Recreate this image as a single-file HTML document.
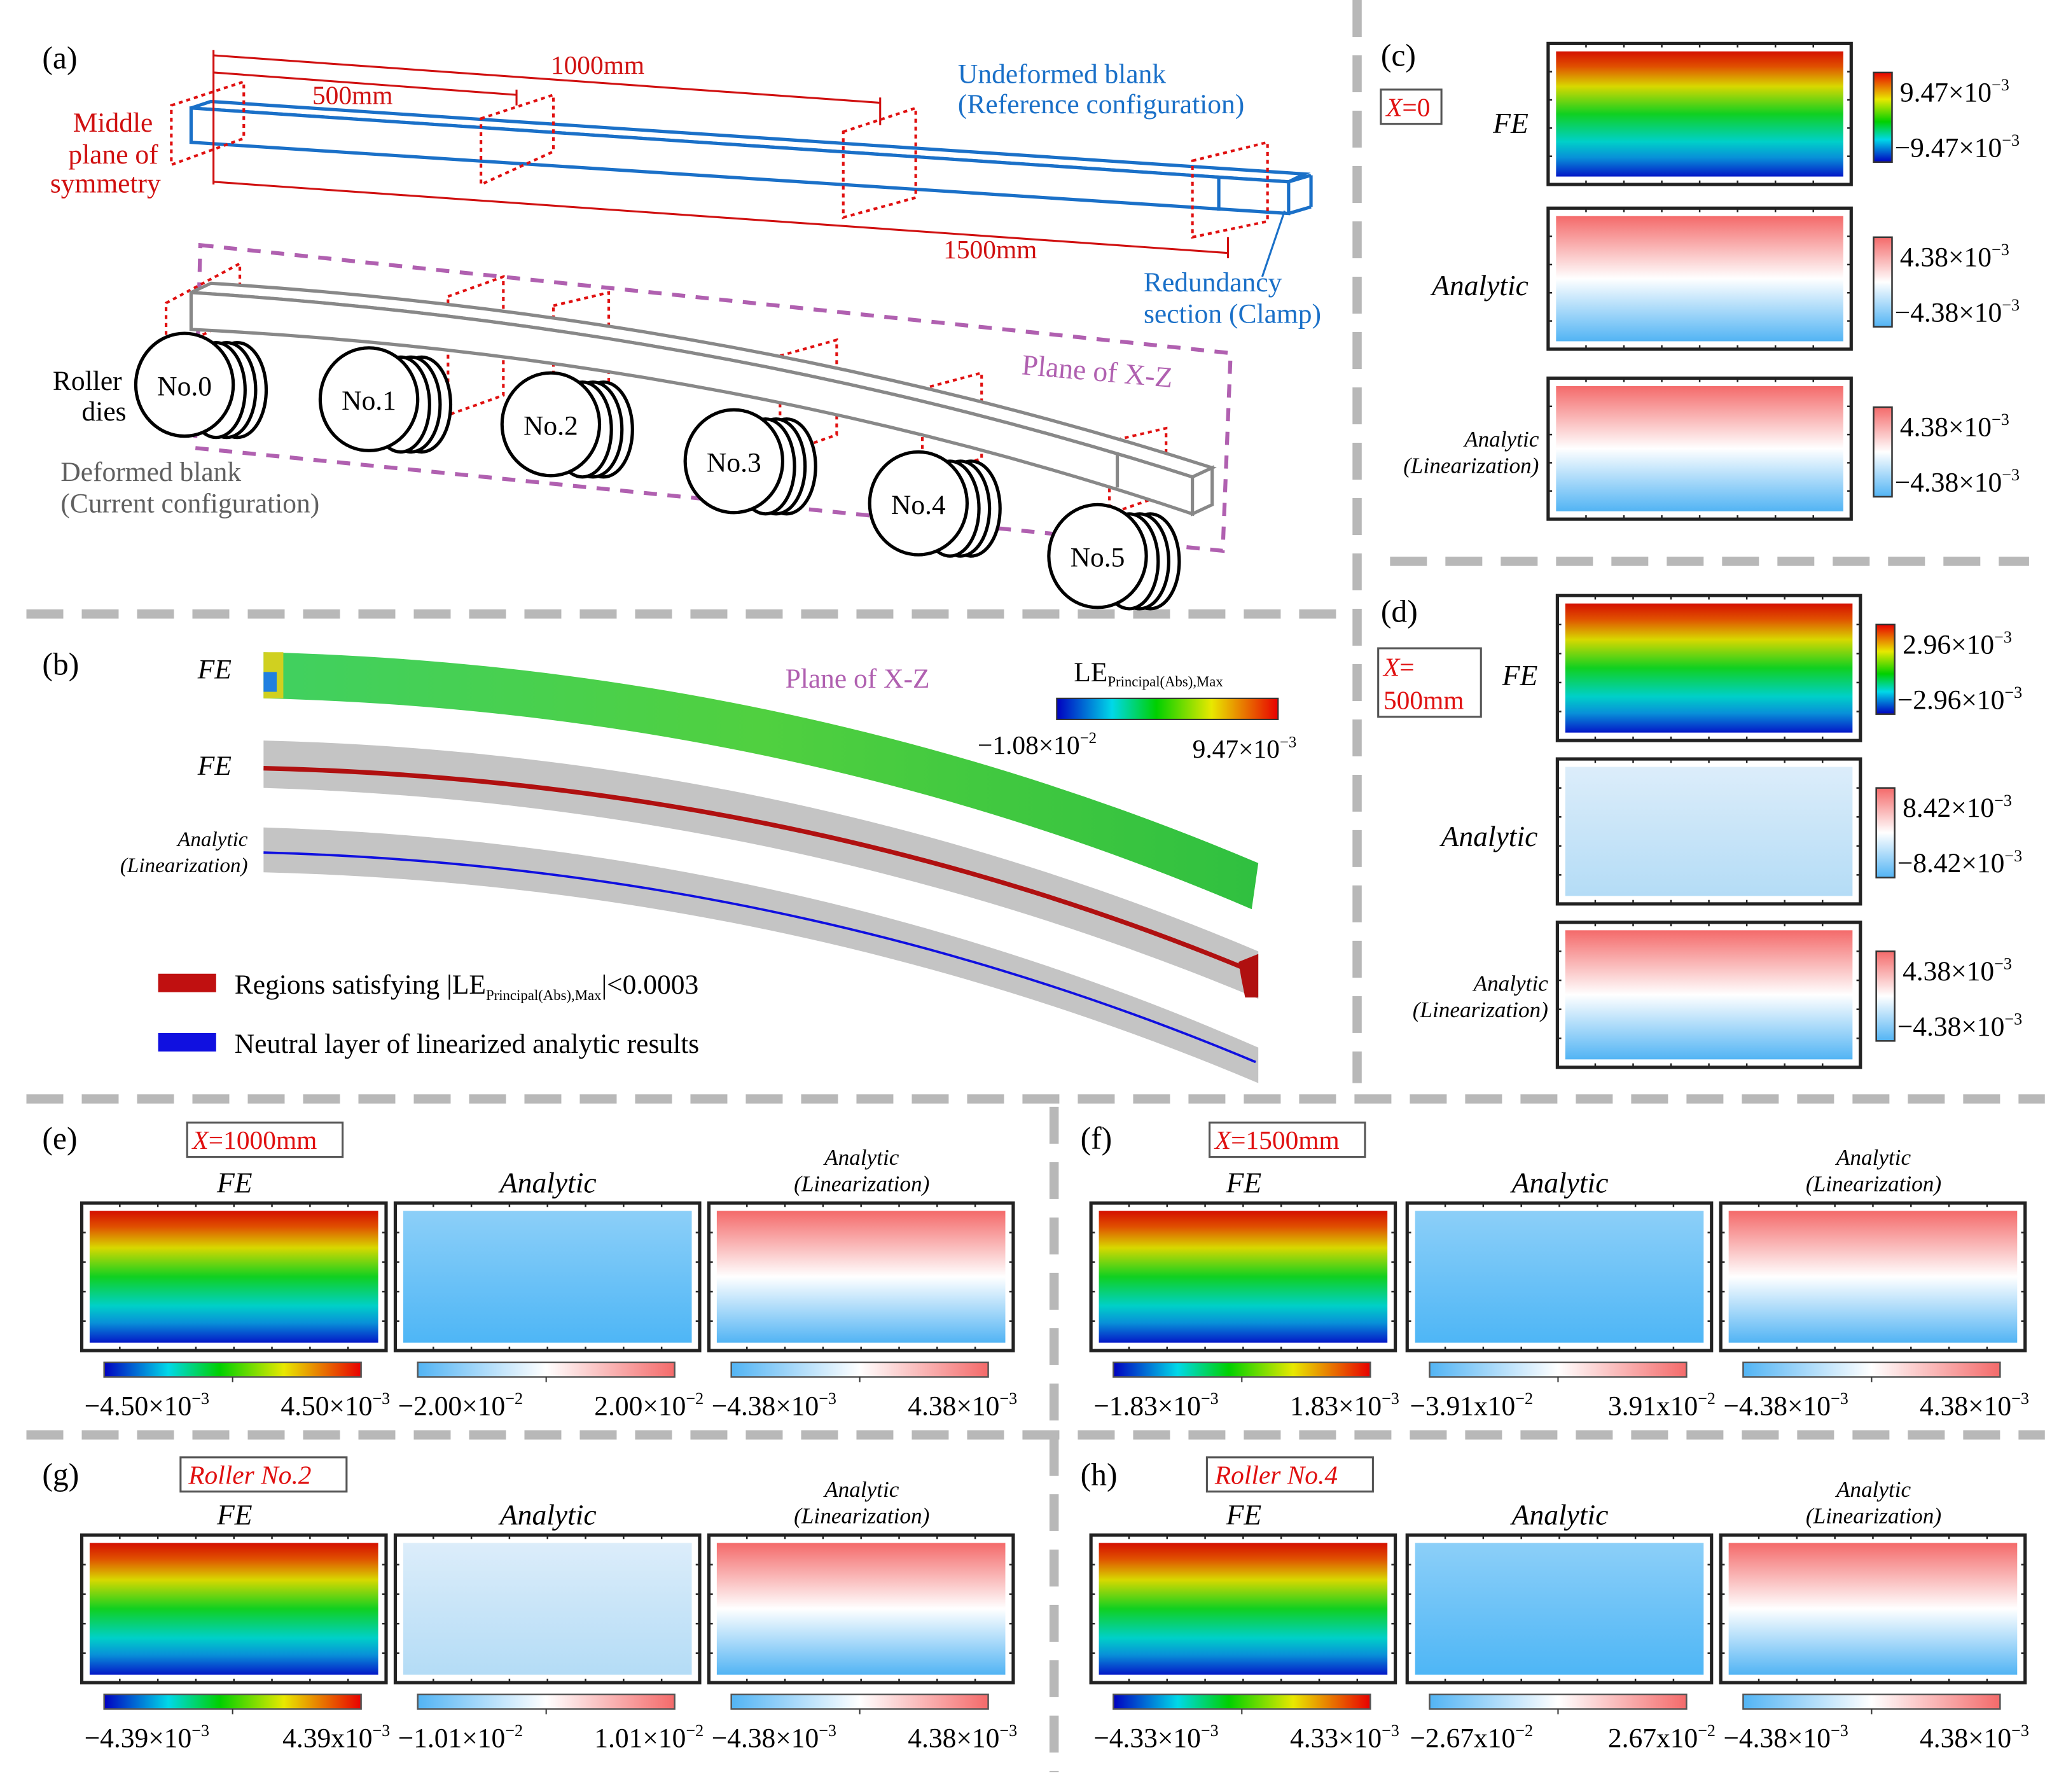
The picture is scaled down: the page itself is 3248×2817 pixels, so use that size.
<!DOCTYPE html>
<html><head><meta charset="utf-8"><style>
html,body{margin:0;padding:0;background:#fff;}
svg{display:block;}
text{font-family:"Liberation Serif",serif;}
</style></head><body>
<svg id="fig" width="3248" height="2817" viewBox="0 0 1568 1360" xmlns="http://www.w3.org/2000/svg">
<defs>
<linearGradient id="rainV" x1="0" y1="0" x2="0" y2="1">
<stop offset="0" stop-color="#d41000"/><stop offset="0.12" stop-color="#e05000"/><stop offset="0.28" stop-color="#d8d800"/><stop offset="0.5" stop-color="#10d020"/><stop offset="0.72" stop-color="#00d0c8"/><stop offset="0.85" stop-color="#0890d8"/><stop offset="1" stop-color="#0418c8"/></linearGradient>
<linearGradient id="rainH" x1="0" y1="0" x2="1" y2="0">
<stop offset="0" stop-color="#0000c0"/><stop offset="0.25" stop-color="#00d8e8"/><stop offset="0.45" stop-color="#00d000"/><stop offset="0.7" stop-color="#e8e800"/><stop offset="1" stop-color="#e80000"/></linearGradient>
<linearGradient id="rainVbar" x1="0" y1="0" x2="0" y2="1">
<stop offset="0" stop-color="#e80000"/><stop offset="0.3" stop-color="#e8e800"/><stop offset="0.55" stop-color="#00d000"/><stop offset="0.75" stop-color="#00d8e8"/><stop offset="1" stop-color="#0000c0"/></linearGradient>
<linearGradient id="linV" x1="0" y1="0" x2="0" y2="1">
<stop offset="0" stop-color="#f46a6a"/><stop offset="0.5" stop-color="#ffffff"/><stop offset="1" stop-color="#52b4f4"/></linearGradient>
<linearGradient id="linH" x1="0" y1="0" x2="1" y2="0">
<stop offset="0" stop-color="#52b4f4"/><stop offset="0.5" stop-color="#ffffff"/><stop offset="1" stop-color="#f46a6a"/></linearGradient>
<linearGradient id="anaLight" x1="0" y1="0" x2="0" y2="1">
<stop offset="0" stop-color="#dcedfa"/><stop offset="1" stop-color="#b4dcf6"/></linearGradient>
<linearGradient id="anaBlue" x1="0" y1="0" x2="0" y2="1">
<stop offset="0" stop-color="#8ccff8"/><stop offset="1" stop-color="#4eb6f6"/></linearGradient>
<linearGradient id="beamG" x1="0" y1="0" x2="1" y2="0">
<stop offset="0" stop-color="#40d060"/><stop offset="0.5" stop-color="#50d040"/><stop offset="1" stop-color="#30c040"/></linearGradient>
</defs>

<g stroke="#b8b8b8" stroke-width="7" stroke-dasharray="28,14" fill="none">
<line x1="1030" y1="0" x2="1030" y2="822"/>
<line x1="20" y1="466" x2="1025" y2="466"/>
<line x1="1055" y1="426" x2="1540" y2="426"/>
<line x1="20" y1="834" x2="1552" y2="834"/>
<line x1="800" y1="840" x2="800" y2="1345"/>
<line x1="20" y1="1089" x2="1552" y2="1089"/>
</g>

<g>
<text x="32" y="52" font-size="24">(a)</text>
<polygon points="152,186 934,268 928,418 148,340" fill="none" stroke="#b060b0" stroke-width="3" stroke-dasharray="10,8"/>
<g stroke="#1a70c8" stroke-width="2.5" fill="none">
<polygon points="145,82 160,77 990,132 978,138"/>
<polygon points="145,82 978,138 978,162 145,108" fill="#fff"/>
<line x1="925" y1="134" x2="925" y2="160"/>
<line x1="978" y1="138" x2="995" y2="133"/><line x1="995" y1="133" x2="995" y2="157"/><line x1="995" y1="157" x2="978" y2="162"/>
</g>
<g stroke="#d01010" stroke-width="1.5" fill="none">
<line x1="162" y1="42" x2="668" y2="78"/><line x1="162" y1="55" x2="392" y2="72"/>
<line x1="162" y1="138" x2="932" y2="192"/>
<line x1="162" y1="38" x2="162" y2="140"/><line x1="668" y1="74" x2="668" y2="95"/><line x1="392" y1="68" x2="392" y2="80"/><line x1="932" y1="180" x2="932" y2="196"/>
</g>
<g stroke="#e01010" stroke-width="2" stroke-dasharray="3,3" fill="none">
<polygon points="130,80 185,62 185,105 130,125"/>
<polygon points="365,90 420,72 420,115 365,140"/>
<polygon points="640,100 695,82 695,150 640,165"/>
<polygon points="905,122 962,108 962,168 905,180"/>
<polygon points="126,230 182,200 182,240 126,268"/>
<polygon points="340,225 382,210 382,300 340,315"/>
<polygon points="420,232 462,222 462,310 420,320"/>
<polygon points="592,270 635,258 635,330 592,345"/>
<polygon points="700,295 745,283 745,348 700,362"/>
<polygon points="842,335 885,325 885,375 842,390"/>
</g>
<text x="418" y="56" font-size="20" fill="#d01010">1000mm</text>
<text x="237" y="79" font-size="20" fill="#d01010">500mm</text>
<text x="716" y="196" font-size="20" fill="#d01010">1500mm</text>
<text x="116" y="100" font-size="21" fill="#d01010" text-anchor="end">Middle</text>
<text x="120" y="124" font-size="21" fill="#d01010" text-anchor="end">plane of</text>
<text x="122" y="146" font-size="21" fill="#d01010" text-anchor="end">symmetry</text>
<text x="727" y="63" font-size="21" fill="#1a70c8">Undeformed blank</text>
<text x="727" y="86" font-size="21" fill="#1a70c8">(Reference configuration)</text>
<text x="868" y="221" font-size="21" fill="#1a70c8">Redundancy</text>
<text x="868" y="245" font-size="21" fill="#1a70c8">section (Clamp)</text>
<line x1="975" y1="160" x2="958" y2="210" stroke="#1a70c8" stroke-width="1.5"/>
<g stroke="#888" stroke-width="2.5" fill="#fff">
<path d="M145,222 L160,215 Q560,240 920,355 L905,362 Q550,248 145,222Z"/>
<path d="M145,222 Q550,248 905,362 L905,390 Q550,270 145,250Z"/>
<path d="M905,362 L920,355 L920,383 L905,390Z"/>
<line x1="848" y1="344" x2="848" y2="370"/>
</g>
<g stroke="#000" stroke-width="2.5" fill="#fff">
<g id="rollers"></g>
</g>
<text x="40" y="296" font-size="21">Roller</text>
<text x="62" y="319" font-size="21">dies</text>
<text x="46" y="365" font-size="21" fill="#606060">Deformed blank</text>
<text x="46" y="389" font-size="21" fill="#606060">(Current configuration)</text>
<text x="775" y="284" font-size="22" fill="#b060b0" transform="rotate(5 775 284)">Plane of X-Z</text>
</g>

<g>
<text x="32" y="512" font-size="24">(b)</text>
<text x="150" y="515" font-size="21" font-style="italic">FE</text>
<text x="150" y="588" font-size="21" font-style="italic">FE</text>
<text x="188" y="642" font-size="16" font-style="italic" text-anchor="end">Analytic</text>
<text x="188" y="662" font-size="16" font-style="italic" text-anchor="end">(Linearization)</text>
<path d="M200,495 Q600,505 955,655 L950,690 Q600,540 200,530Z" fill="url(#beamG)"/>
<path d="M200,495 L215,495 L215,530 L200,530Z" fill="#d0d020"/>
<path d="M200,510 L210,510 L210,525 L200,525Z" fill="#2080e0"/>
<path d="M200,562 Q600,572 955,722 L955,758 Q600,610 200,598Z" fill="#c4c4c4"/>
<path d="M200,583 Q600,593 945,735" fill="none" stroke="#b01010" stroke-width="3.5"/>
<path d="M940,730 L955,724 L955,757 L945,757 L942,742Z" fill="#b01010"/>
<path d="M200,628 Q600,640 955,795 L955,822 Q600,672 200,662Z" fill="#c4c4c4"/>
<path d="M200,647 Q600,658 953,806" fill="none" stroke="#1010e0" stroke-width="1.8"/>
<text x="596" y="522" font-size="21" fill="#b060b0">Plane of X-Z</text>
<text x="815" y="517" font-size="21">LE<tspan font-size="11" dy="4">Principal(Abs),Max</tspan></text>
<rect x="802" y="530" width="168" height="16" fill="url(#rainH)" stroke="#333" stroke-width="1"/>
<text x="742" y="572" font-size="20">−1.08×10<tspan font-size="12" dy="-8">−2</tspan></text>
<text x="905" y="575" font-size="20">9.47×10<tspan font-size="12" dy="-8">−3</tspan></text>
<rect x="120" y="739" width="44" height="14" fill="#c01010"/>
<text x="178" y="754" font-size="21">Regions satisfying |LE<tspan font-size="11" dy="5">Principal(Abs),Max</tspan><tspan dy="-5">|&lt;0.0003</tspan></text>
<rect x="120" y="784" width="44" height="14" fill="#1010e0"/>
<text x="178" y="799" font-size="21">Neutral layer of linearized analytic results</text>
</g>

<g font-size="24">
<text x="1048" y="50">(c)</text>
<text x="1048" y="472">(d)</text>
<text x="32" y="872">(e)</text>
<text x="820" y="872">(f)</text>
<text x="32" y="1127">(g)</text>
<text x="820" y="1127">(h)</text>
</g>
<g font-size="20" fill="#e01010" font-style="italic">
<rect x="1048" y="68" width="46" height="26" fill="#fff" stroke="#555" stroke-width="1.5"/>
<text x="1052" y="88">X<tspan font-style="normal">=0</tspan></text>
<rect x="1046" y="492" width="78" height="52" fill="#fff" stroke="#555" stroke-width="1.5"/>
<text x="1050" y="513">X<tspan font-style="normal">=</tspan></text>
<text x="1050" y="538" font-style="normal">500mm</text>
<rect x="142" y="852" width="118" height="26" fill="#fff" stroke="#555" stroke-width="1.5"/>
<text x="146" y="872">X<tspan font-style="normal">=1000mm</tspan></text>
<rect x="918" y="852" width="118" height="26" fill="#fff" stroke="#555" stroke-width="1.5"/>
<text x="922" y="872">X<tspan font-style="normal">=1500mm</tspan></text>
<rect x="137" y="1106" width="126" height="26" fill="#fff" stroke="#555" stroke-width="1.5"/>
<text x="143" y="1126">Roller No.2</text>
<rect x="916" y="1106" width="126" height="26" fill="#fff" stroke="#555" stroke-width="1.5"/>
<text x="922" y="1126">Roller No.4</text>
</g>
<g id="maps"></g>
</svg>
<script>
const rollerNames = ["No.0","No.1","No.2","No.3","No.4","No.5"];
const rollerCx = [140,280,418,557,697,833];
const rollerCy = [292,303,322,350,382,422];

const panelIds = ["c","d","e","f","g","h"];
const feMin = ["−9.47×10","−2.96×10","−4.50×10","−1.83×10","−4.39×10","−4.33×10"];
const feMax = ["9.47×10","2.96×10","4.50×10","1.83×10","4.39x10","4.33×10"];
const feExp = ["−3","−3","−3","−3","−3","−3"];
const anaMin = ["−4.38×10","−8.42×10","−2.00×10","−3.91x10","−1.01×10","−2.67x10"];
const anaMax = ["4.38×10","8.42×10","2.00×10","3.91x10","1.01×10","2.67x10"];
const anaExp = ["−3","−3","−2","−2","−2","−2"];
const anaFill = ["url(#linV)","url(#anaLight)","url(#anaBlue)","url(#anaBlue)","url(#anaLight)","url(#anaBlue)"];
const linMin = ["−4.38×10","−4.38×10","−4.38×10","−4.38×10","−4.38×10","−4.38×10"];
const linMax = ["4.38×10","4.38×10","4.38×10","4.38×10","4.38×10","4.38×10"];
const linExp = ["−3","−3","−3","−3","−3","−3"];

const NS="http://www.w3.org/2000/svg";
const svg=document.getElementById('fig');
function mk(tag,attrs,parent){const e=document.createElementNS(NS,tag);for(const k in attrs)e.setAttribute(k,attrs[k]);(parent||svg).appendChild(e);return e;}
function txt(parent,x,y,s,size,opts){const t=mk('text',Object.assign({x:x,y:y,'font-size':size},opts||{}),parent);t.textContent=s;return t;}
function expTxt(parent,x,y,base,exp,size,anchor){const t=mk('text',{x:x,y:y,'font-size':size,'text-anchor':anchor||'start'},parent);t.appendChild(document.createTextNode(base));const ts=mk('tspan',{'font-size':size*0.6,dy:-size*0.4},t);ts.textContent=exp;return t;}

const rg=document.getElementById('rollers');
rollerNames.forEach((n,i)=>{
  const cx=rollerCx[i],cy=rollerCy[i];
  const g=mk('g',{},rg);
  
  
  for(let k=3;k>=1;k--) mk('ellipse',{cx:cx+16+k*8,cy:cy+4,rx:22,ry:36},g);
  mk('ellipse',{cx:cx,cy:cy,rx:37,ry:39},g);
  txt(g,cx,cy+8,n,21,{'text-anchor':'middle',fill:'#000',stroke:'none'});
});

const mg=document.getElementById('maps');
function heat(g,x,y,w,h,fill,name){
  const r=mk('rect',{x:x,y:y,width:w,height:h,fill:'#fff',stroke:'#222','stroke-width':2.5},g);
  
  
  mk('rect',{x:x+6,y:y+6,width:w-12,height:h-12,fill:fill},g);
  for(let k=1;k<8;k++){const xx=x+w*k/8;mk('line',{x1:xx,y1:y,x2:xx,y2:y+3,stroke:'#222','stroke-width':1.2},g);mk('line',{x1:xx,y1:y+h,x2:xx,y2:y+h-3,stroke:'#222','stroke-width':1.2},g);}
  for(let k=1;k<5;k++){const yy=y+h*k/5;mk('line',{x1:x,y1:yy,x2:x+3,y2:yy,stroke:'#222','stroke-width':1.2},g);mk('line',{x1:x+w,y1:yy,x2:x+w-3,y2:yy,stroke:'#222','stroke-width':1.2},g);}
}
function vbar(g,x,y,h,fill,maxS,minS,exp1,exp2,name){
  const r=mk('rect',{x:x,y:y,width:14,height:h,fill:fill,stroke:'#333','stroke-width':1.2},g);
  
  
  expTxt(g,x+20,y+22,maxS,exp1,21);
  expTxt(g,x+16,y+h-4,minS,exp2,21);
}
function hbar(g,x,y,w,fill,minS,maxS,e1,e2,name){
  const r=mk('rect',{x:x,y:y,width:w,height:11,fill:fill,stroke:'#555','stroke-width':1.2},g);
  
  
  mk('line',{x1:x+w/2,y1:y+11,x2:x+w/2,y2:y+15,stroke:'#333'},g);
  expTxt(g,x-15,y+40,minS,e1,21);
  expTxt(g,x+w+22,y+40,maxS,e2,21,'end');
}
const vX=[1175,1182], vY=[[33,158,287],[452,576,700]], vW=[230,230], vH=[107,110];
const vBarX=[1422,1424];
for(let p=0;p<2;p++){
  const g=mk('g',{},mg);
  
  
  const fills=['url(#rainV)',anaFill[p],'url(#linV)'];
  const bfills=['url(#rainVbar)','url(#linV)','url(#linV)'];
  const mins=[feMin[p],anaMin[p],linMin[p]],maxs=[feMax[p],anaMax[p],linMax[p]],ex=[feExp[p],anaExp[p],linExp[p]];
  for(let r=0;r<3;r++){
    heat(g,vX[p],vY[p][r],vW[p],vH[p],fills[r],'heatmap-'+panelIds[p]+'-'+r);
    vbar(g,vBarX[p],vY[p][r]+22,68,bfills[r],maxs[r],mins[r],ex[r],ex[r],'colorbar-'+panelIds[p]+'-'+r);
  }
  const lx=vX[p]-15;
  txt(g,lx,vY[p][0]+68,'FE',22,{'text-anchor':'end','font-style':'italic'});
  txt(g,lx,vY[p][1]+66,'Analytic',22,{'text-anchor':'end','font-style':'italic'});
  txt(g,lx+8,vY[p][2]+52,'Analytic',17,{'text-anchor':'end','font-style':'italic'});
  txt(g,lx+8,vY[p][2]+72,'(Linearization)',17,{'text-anchor':'end','font-style':'italic'});
}
const rX=[[62,300,538],[828,1068,1306],[62,300,538],[828,1068,1306]];
const rY=[913,913,1165,1165];
for(let q=0;q<4;q++){
  const p=q+2;
  const g=mk('g',{},mg);
  
  
  const fills=['url(#rainV)',anaFill[p],'url(#linV)'];
  const bfills=['url(#rainH)','url(#linH)','url(#linH)'];
  const mins=[feMin[p],anaMin[p],linMin[p]],maxs=[feMax[p],anaMax[p],linMax[p]],ex=[feExp[p],anaExp[p],linExp[p]];
  for(let r=0;r<3;r++){
    const x=rX[q][r],y=rY[q];
    heat(g,x,y,231,112,fills[r],'heatmap-'+panelIds[p]+'-'+r);
    hbar(g,x+17,y+121,195,bfills[r],mins[r],maxs[r],ex[r],ex[r],'colorbar-'+panelIds[p]+'-'+r);
  }
  const y=rY[q];
  txt(g,rX[q][0]+116,y-8,'FE',22,{'text-anchor':'middle','font-style':'italic'});
  txt(g,rX[q][1]+116,y-8,'Analytic',22,{'text-anchor':'middle','font-style':'italic'});
  txt(g,rX[q][2]+116,y-29,'Analytic',17,{'text-anchor':'middle','font-style':'italic'});
  txt(g,rX[q][2]+116,y-9,'(Linearization)',17,{'text-anchor':'middle','font-style':'italic'});
}
</script>
</body></html>
